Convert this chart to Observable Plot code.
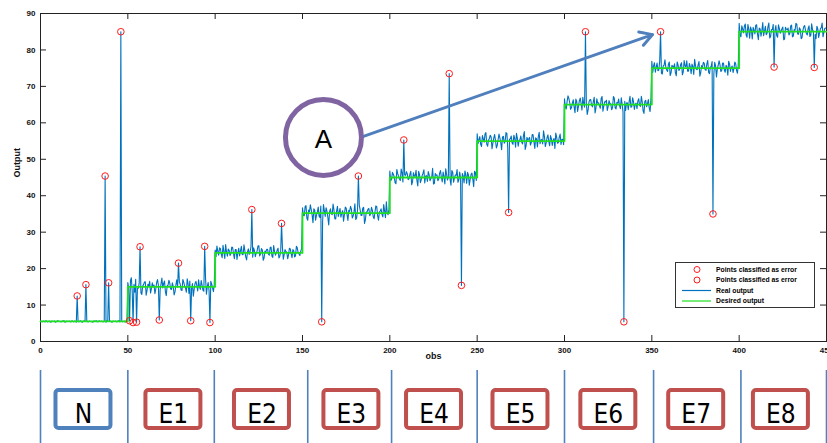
<!DOCTYPE html>
<html><head><meta charset="utf-8">
<script src="https://cdn.jsdelivr.net/npm/d3@7"></script>
<script src="https://cdn.jsdelivr.net/npm/@observablehq/plot@0.6"></script>
<style>
body{margin:0;background:#fff;}
#wrap{position:relative;width:827px;height:443px;overflow:hidden;background:#fff;}
#wrap svg{display:block;}
#legend{position:absolute;left:675px;top:262px;width:138px;height:44px;border:1px solid #333;background:#fff;}
</style></head><body><div id="wrap"></div>
<script>
// ---- data ----
const segmentNames = ["N","E1","E2","E3","E4","E5","E6","E7","E8"];
const segmentStarts = [0,50,100,150,200,250,300,350,400];
const desiredLevels = [5.5,15,24.3,35.2,45,55,65,75,85];
// deviation of the real output from the desired level, at each obs (a) and half-way after it (b)
const noiseN = [
 0.1,-0.1,0.0,0.2,-0.1,0.1,-0.2,0.0,0.1,-0.1,
 0.2,0.0,-0.1,0.1,-0.2,0.1,0.0,-0.1,0.2,-0.1,
 0.0,0.1,-0.1,0.2,-0.2,0.1,0.0,-0.1,0.1,0.0,
 -0.2,0.1,0.2,-0.1,0.0,0.1,-0.1,0.0,0.2,-0.1,
 0.1,-0.2,0.0,0.1,-0.1,0.2,0.0,-0.1,0.1,0.0];
const noiseNb = [
 0.0,0.1,-0.1,0.1,0.0,-0.1,0.1,0.0,-0.2,0.1,
 0.0,-0.1,0.1,0.2,-0.1,0.0,0.1,-0.1,0.0,0.1,
 -0.2,0.0,0.1,-0.1,0.1,0.0,0.2,-0.1,0.0,-0.1,
 0.1,0.0,-0.1,0.2,0.0,-0.1,0.1,-0.2,0.0,0.1,
 -0.1,0.1,0.0,-0.1,0.2,-0.1,0.1,0.0,-0.2,0.1];
const noiseE1 = [
 1.2,-0.8,2.5,0.3,-1.5,1.8,-0.4,0.9,-2.1,0.6,
 1.4,-0.9,0.2,-1.7,1.1,0.5,-0.6,2.0,-1.2,0.8,
 -0.3,1.6,-2.4,0.4,1.0,-0.7,0.1,-1.4,1.9,-0.5,
 0.7,-1.0,1.3,-0.2,2.2,-1.8,0.3,0.9,-0.6,1.5,
 -1.1,0.0,1.7,-0.9,0.6,-2.0,1.2,-0.4,0.8,-1.3];
const noiseE1b = [
 -0.4,1.7,-1.1,0.6,2.1,-0.3,1.0,-1.6,0.2,1.3,
 -2.3,0.7,1.5,-0.5,0.0,-1.9,1.2,0.4,-0.8,2.4,
 0.9,-1.3,0.3,1.8,-0.6,1.1,-2.2,0.5,-0.1,1.4,
 -0.9,2.0,0.2,-1.5,0.8,1.6,-0.4,-2.6,1.0,0.3,
 1.9,-0.7,0.5,-1.2,2.3,0.1,-1.0,1.5,-0.3,0.7];
const noiseE2 = [
 0.8,1.9,-0.6,1.2,-1.3,0.4,2.3,-0.9,0.7,-0.2,
 1.5,-1.6,0.9,0.1,-0.8,1.8,-0.4,0.6,-1.9,1.1,
 0.3,-0.7,1.4,-1.0,0.5,2.0,-0.3,0.8,-1.4,0.2,
 1.0,-0.6,1.6,-1.2,0.4,-0.1,1.3,-0.9,0.7,-1.7,
 0.9,0.2,-0.5,1.1,-1.3,0.6,-0.8,1.4,-0.3,0.5];
const noiseE2b = [
 -1.0,0.5,1.4,-0.3,2.1,-1.5,0.2,1.1,-0.7,1.6,
 -0.2,0.9,-1.8,1.3,0.6,-0.5,2.2,-1.1,0.3,-0.4,
 1.7,-1.2,0.6,0.0,1.9,-0.8,1.2,-2.0,0.5,1.0,
 -0.3,1.5,-0.9,2.0,-0.6,0.8,-1.4,0.2,1.6,-0.5,
 0.4,-1.6,1.3,-0.2,0.9,-1.1,1.8,0.1,-0.7,1.2];
const noiseE3 = [
 1.5,-0.7,2.1,-1.9,0.4,1.0,-2.6,0.8,-0.5,1.7,
 -1.2,0.3,2.4,-0.9,0.6,-3.2,1.2,-0.4,0.9,-1.6,
 1.9,0.2,-1.1,0.7,-0.3,1.4,-2.0,0.5,1.1,-0.8,
 2.6,-1.3,0.1,0.9,-0.6,1.6,-1.8,0.4,1.3,-0.2,
 0.8,-1.5,2.0,-0.7,0.3,1.2,-1.0,0.6,3.1,-0.4];
const noiseE3b = [
 -0.6,1.8,-1.4,0.9,2.3,-0.5,1.2,-1.9,0.3,-0.8,
 2.0,-2.4,0.7,1.5,-1.1,0.4,-0.2,2.5,-1.5,0.6,
 -0.9,1.3,0.1,-2.2,1.7,-0.4,0.8,1.9,-1.3,0.5,
 -1.7,0.9,2.2,-0.6,1.4,-2.8,0.3,1.1,-0.7,1.6,
 -1.0,0.4,1.8,-1.9,0.6,-0.3,2.4,-1.2,0.2,1.0];
const noiseE4 = [
 1.8,-0.5,0.9,-1.4,2.2,0.3,-0.8,1.3,-1.9,0.6,
 1.0,-0.3,1.7,-1.1,0.4,2.0,-2.3,0.8,-0.6,1.2,
 -1.5,0.5,1.6,-0.9,0.2,-1.8,1.1,0.7,-0.4,1.9,
 -1.2,0.3,2.4,-0.7,0.9,-2.1,1.4,-0.2,0.6,-1.3,
 1.5,-0.8,0.4,1.8,-1.6,0.7,-0.5,1.2,-2.5,1.3];
const noiseE4b = [
 -0.9,1.4,0.2,-1.7,1.1,-0.4,2.3,-1.2,0.7,1.6,
 -0.6,0.9,-2.0,1.3,0.3,-0.8,1.7,-1.4,0.5,2.1,
 0.4,-1.1,0.8,-0.3,2.5,-1.6,0.6,-0.9,1.2,0.1,
 1.5,-1.8,0.9,0.2,-0.5,1.9,-1.3,0.7,2.2,-0.7,
 -0.2,1.1,-1.5,0.6,1.4,-2.1,0.9,-0.4,1.7,-0.8];
const noiseE5 = [
 2.0,0.4,-0.9,1.5,-0.3,2.3,-1.4,0.7,1.1,-0.6,
 1.8,-1.9,0.5,0.9,-2.4,1.3,-0.2,2.1,-1.1,0.6,
 -0.5,1.6,-1.7,0.8,0.2,1.4,-0.8,2.6,-1.3,0.3,
 1.0,-0.4,1.7,-2.0,0.6,1.2,-0.7,0.4,2.8,-1.5,
 0.9,-0.1,1.5,-1.2,0.7,2.2,-0.6,1.1,-0.9,0.5];
const noiseE5b = [
 -0.7,1.2,-1.5,0.6,2.0,-0.9,0.3,1.6,-2.1,0.8,
 0.1,-1.2,1.9,-0.4,1.1,-0.6,2.3,-1.8,0.5,1.4,
 -0.9,0.7,2.1,-1.4,0.4,-0.3,1.5,-2.3,1.0,0.6,
 -1.1,1.8,-0.2,0.9,-1.6,2.4,0.3,-0.8,1.3,-0.5,
 1.7,-1.3,0.6,0.2,-2.0,1.1,-0.4,1.9,0.5,-1.0];
const noiseE6 = [
 1.6,-1.2,2.4,0.5,-0.8,1.3,-2.2,0.9,-0.4,1.8,
 -1.5,0.2,1.1,-2.7,0.7,1.4,-0.6,2.0,-1.0,0.4,
 -0.3,1.7,-1.8,0.8,1.2,-0.5,0.3,-1.4,2.2,-0.9,
 0.6,1.5,-1.1,0.1,2.7,-1.6,0.5,0.8,-0.7,1.9,
 -1.3,0.4,1.0,-0.2,2.3,-1.7,0.9,-0.6,1.4,-1.9];
const noiseE6b = [
 -0.8,0.9,1.7,-1.3,0.4,-0.6,1.5,-1.9,1.0,0.3,
 2.0,-0.7,0.6,-1.5,1.3,-0.2,0.8,-2.3,1.6,0.5,
 -1.0,2.2,-0.4,0.7,-1.6,1.1,0.2,-0.8,1.8,-1.2,
 0.4,-0.3,1.9,-2.0,0.9,0.5,-1.4,2.3,-0.6,0.8,
 0.1,-1.1,1.6,-0.5,0.7,-2.4,1.2,0.3,-0.9,1.5];
const noiseE7 = [
 1.9,0.6,-1.1,1.4,-0.5,2.2,-1.6,0.8,0.3,-0.9,
 1.7,-1.3,0.5,1.2,-2.1,0.9,-0.2,1.5,-1.0,0.6,
 2.0,-0.8,0.4,1.1,-1.7,0.7,-0.4,1.8,-1.2,0.2,
 1.3,-0.6,2.1,-1.5,0.5,-0.3,1.6,-2.4,0.8,1.0,
 -0.7,1.4,-1.1,0.3,1.9,-0.9,0.6,-0.2,1.2,-1.4];
const noiseE7b = [
 -1.2,1.5,0.3,-0.7,1.9,-1.4,0.6,2.3,-0.5,1.1,
 -2.0,0.8,0.2,-1.3,1.7,-0.6,1.0,-1.8,2.1,0.4,
 -0.8,1.3,-1.5,0.5,2.4,-0.3,0.9,-2.2,0.7,1.6,
 -0.4,1.2,-1.1,0.3,1.8,-1.6,0.6,-0.2,2.0,-0.9,
 1.4,-0.5,0.8,-1.9,1.1,0.2,-1.2,1.7,-0.6,0.9];
const noiseE8 = [
 2.3,-1.4,0.7,1.6,-0.9,2.0,-1.8,0.5,1.2,-0.6,
 1.9,-2.2,0.8,0.3,-1.1,1.5,-0.4,2.4,-1.3,0.6,
 -0.8,1.7,-1.5,0.9,0.2,1.3,-2.0,0.7,1.0,-0.5,
 1.8,-1.2,0.4,2.1,-0.7,0.6,-1.6,1.4,0.3,-0.9,
 1.6,-1.0,0.5,2.2,-1.9,0.8,-0.3,1.1,-1.4,0.9];
const noiseE8b = [
 -0.9,1.6,-0.3,2.1,-1.5,0.7,1.3,-2.0,0.4,1.8,
 -0.7,1.0,-1.2,2.5,0.2,-0.8,1.4,-1.7,0.6,2.0,
 0.3,-1.1,1.9,-0.4,0.8,-2.2,1.2,0.5,-0.9,1.6,
 -1.4,0.6,2.3,-0.6,1.1,-1.9,0.4,1.7,-0.5,0.9,
 -1.3,2.2,0.1,-0.7,1.5,-1.6,0.8,2.4,-0.2,1.0];
const errorObs = [21,26,37,39,46,51,53,55,57,68,79,86,94,97,121,138,161,182,208,234,241,268,312,334,355,385,420,443];
const errorValues = [12.5,15.6,45.4,16.1,85,5.7,5.2,5.3,26,5.9,21.5,5.7,26.1,5.2,36.2,32.4,5.4,45.4,55.3,73.5,15.4,35.4,85,5.4,85,35,75.3,75.2];
const xTicks = [0,50,100,150,200,250,300,350,400,450];
const yTicks = [0,10,20,30,40,50,60,70,80,90];
const separatorObs = [0,50,99.5,153,201,250,300,351,401,450];
const boxCenters = [24.6,76.1,126.8,178,225.3,274.8,325.1,375.4,423.9];
const annotation = {label: "A", x: 162, y: 56, arrowX1: 184.9, arrowY1: 56.3, arrowX2: 350.4, arrowY2: 84.2};

// ---- tables ----
const noiseA = [noiseN,noiseE1,noiseE2,noiseE3,noiseE4,noiseE5,noiseE6,noiseE7,noiseE8];
const noiseB = [noiseNb,noiseE1b,noiseE2b,noiseE3b,noiseE4b,noiseE5b,noiseE6b,noiseE7b,noiseE8b];
const errMap = new Map(errorObs.map((o,i)=>[o,errorValues[i]]));
const real = [];
for (let s = 0; s < 9; s++) {
  for (let j = 0; j < 50; j++) {
    const obs = segmentStarts[s] + j;
    const v = errMap.has(obs) ? errMap.get(obs) : desiredLevels[s] + (noiseA[s][j] ?? 0);
    real.push({obs, v});
    real.push({obs: obs + 0.5, v: desiredLevels[s] + (noiseB[s][j] ?? 0)});
  }
}
const desired = segmentStarts.map((s,i)=>({obs:s, v:desiredLevels[i]})).concat([{obs:450, v:desiredLevels[8]}]);
const errors = errorObs.map((o,i)=>({obs:o, v:errorValues[i]}));

const font = "'Liberation Sans', Arial, Helvetica, sans-serif";
const W = 827, ML = 40, MR = 1;
const frameW = W - ML - MR;

const chart = Plot.plot({
  width: W, height: 370,
  marginLeft: ML, marginRight: MR, marginTop: 13, marginBottom: 29,
  style: {fontFamily: font, fontSize: "8px", fontWeight: "bold", background: "white", color: "#111", overflow: "visible"},
  x: {domain: [0,450], ticks: xTicks, tickSize: 0, tickPadding: 6, label: null},
  y: {domain: [0,90], ticks: yTicks, tickSize: 0, tickPadding: 5, label: null},
  marks: [
    Plot.frame({stroke: "#222", strokeWidth: 1}),
    Plot.tickX(xTicks, {x: d=>d, insetTop: 322, stroke: "#222"}),
    Plot.tickX(xTicks, {x: d=>d, insetBottom: 322, stroke: "#222"}),
    Plot.tickY(yTicks, {y: d=>d, insetRight: frameW - 6, stroke: "#222"}),
    Plot.tickY(yTicks, {y: d=>d, insetLeft: frameW - 6, stroke: "#222"}),
    Plot.line(real, {x: "obs", y: "v", stroke: "#0072BD", strokeWidth: 1.1}),
    Plot.line(desired, {x: "obs", y: "v", curve: "step-after", stroke: "#1ee01e", strokeWidth: 1.8}),
    Plot.dot(errors, {x: "obs", y: "v", r: 3.3, stroke: "#ff1a1a", strokeWidth: 1, fill: "none"}),
    Plot.arrow([annotation], {x1: "arrowX1", y1: "arrowY1", x2: "arrowX2", y2: "arrowY2", stroke: "#4F7FBD", strokeWidth: 3, headLength: 7, headAngle: 60, insetStart: 0, insetEnd: 0}),
    Plot.dot([annotation], {x: "x", y: "y", r: 38, stroke: "#8064A2", strokeWidth: 5, fill: "white"}),
    Plot.text([annotation], {x: "x", y: "y", text: "label", fontSize: 26, fontWeight: "normal", fill: "#000", dy: 2}),
    Plot.text(["Output"], {frameAnchor: "left", rotate: -90, dx: -23, fontSize: 9, fontWeight: "bold", fill: "#111"}),
    Plot.text(["obs"], {frameAnchor: "bottom", dy: 17, fontSize: 9, fontWeight: "bold", fill: "#111"})
  ]
});

const boxes = segmentNames.map((n,i)=>({name: n, x1: boxCenters[i]-15.74, x2: boxCenters[i]+15.74, xc: boxCenters[i], kind: i===0 ? "normal" : "error"}));
const strip = Plot.plot({
  width: W, height: 73,
  marginLeft: ML, marginRight: MR, marginTop: 0, marginBottom: 0,
  style: {background: "white", overflow: "visible"},
  x: {domain: [0,450], axis: null},
  y: {domain: [0,1], axis: null},
  marks: [
    Plot.ruleX(separatorObs, {x: d=>d, stroke: "#4F81BD", strokeWidth: 1.6}),
    Plot.rect(boxes, {x1: "x1", x2: "x2", y1: ()=>0, y2: ()=>1, insetTop: 20, insetBottom: 15, rx: 3,
      stroke: d=> d.kind === "normal" ? "#4F81BD" : "#C0504D", strokeWidth: 4, fill: "white"}),
    Plot.text(boxes, {x: "xc", text: "name", frameAnchor: "top", dy: 34, fontSize: 26,
      fontFamily: "'Liberation Sans Narrow', 'DejaVu Sans Condensed', Arial, sans-serif", fill: "#000"})
  ]
});

const wrap = document.getElementById("wrap");
wrap.appendChild(chart);
wrap.appendChild(strip);

const legend = document.createElement("div");
legend.id = "legend";
const legendItems = [
  {label: "Points classified as error", type: "circle", color: "#ff1a1a"},
  {label: "Points classified as error", type: "circle", color: "#ff1a1a"},
  {label: "Real output", type: "line", color: "#0072BD"},
  {label: "Desired output", type: "line", color: "#1ee01e"}
];
const ns = "http://www.w3.org/2000/svg";
const lsvg = document.createElementNS(ns, "svg");
lsvg.setAttribute("width", 138); lsvg.setAttribute("height", 44);
legendItems.forEach((it, i) => {
  const cy = 6.5 + i * 10.5;
  if (it.type === "circle") {
    const c = document.createElementNS(ns, "circle");
    c.setAttribute("cx", 21); c.setAttribute("cy", cy); c.setAttribute("r", 3);
    c.setAttribute("fill", "none"); c.setAttribute("stroke", it.color); c.setAttribute("stroke-width", 1);
    lsvg.appendChild(c);
  } else {
    const l = document.createElementNS(ns, "line");
    l.setAttribute("x1", 6); l.setAttribute("x2", 35); l.setAttribute("y1", cy); l.setAttribute("y2", cy);
    l.setAttribute("stroke", it.color); l.setAttribute("stroke-width", 1.2);
    lsvg.appendChild(l);
  }
  const t = document.createElementNS(ns, "text");
  t.setAttribute("x", 40); t.setAttribute("y", cy + 2.4);
  t.setAttribute("font-family", font); t.setAttribute("font-size", "6.8px"); t.setAttribute("font-weight", "bold");
  t.textContent = it.label;
  lsvg.appendChild(t);
});
legend.appendChild(lsvg);
wrap.appendChild(legend);
</script></body></html>
